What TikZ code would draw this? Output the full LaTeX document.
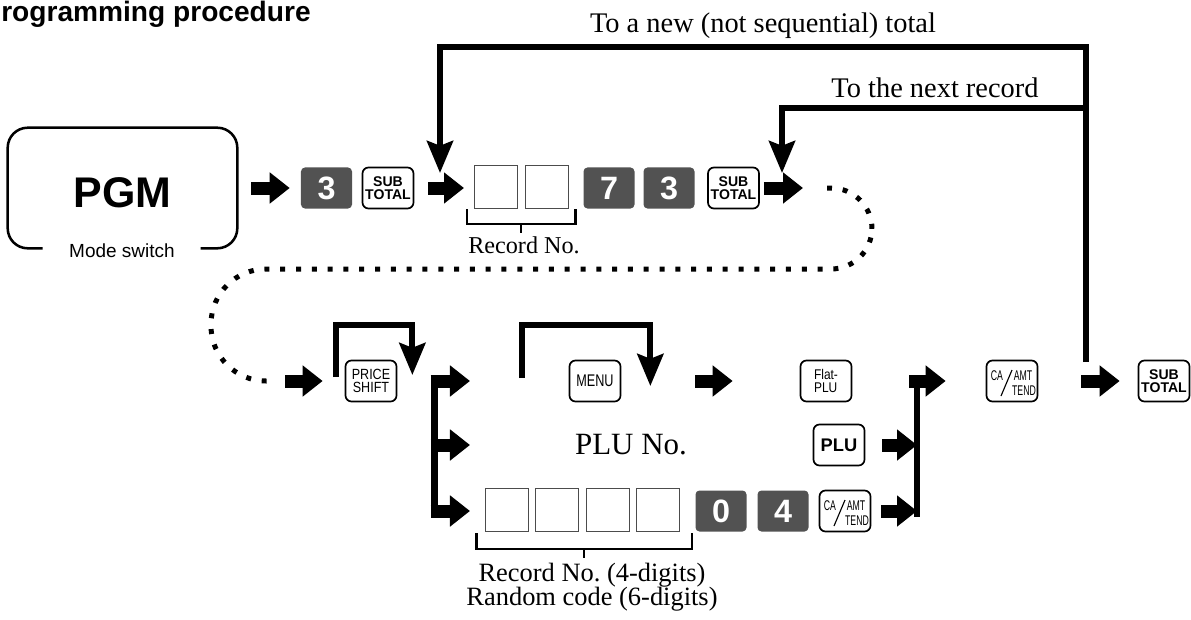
\documentclass[tikz,border=0pt]{standalone}
\usepackage{fontspec}
\setmainfont{Liberation Serif}
\setsansfont{Liberation Sans}
\newfontfamily\pricesf[FakeStretch=0.85]{Liberation Sans}
\newfontfamily\menusf[FakeStretch=0.75]{Liberation Sans}
\newfontfamily\narrowsf[FakeStretch=0.62]{Liberation Sans}
\usetikzlibrary{arrows.meta,calc}
\definecolor{keygray}{RGB}{82,82,82}
\frenchspacing
\tikzset{
    numkey/.style={fill=keygray, rounded corners=.1cm, text=white, inner sep=0pt,
        minimum width=1.275cm, minimum height=1.025cm,
        font=\sffamily\bfseries\fontsize{23}{23}\selectfont},
    fnkey/.style={draw, line width=1.2pt, rounded corners=.15cm, inner sep=0pt, align=center,
        minimum width=1.275cm, minimum height=1.025cm},
    subkey/.style={fnkey, font=\sffamily\bfseries\fontsize{10}{9}\selectfont},
    digbox/.style={draw=black!70, line width=.7pt, minimum width=1.075cm, minimum height=1.075cm, inner sep=0pt},
    blk/.style={line width=.325cm, -{Triangle[length=.5cm,width=.75cm]}},
    flow/.style={line width=.15cm, -{Stealth[length=.8cm,width=.65cm,inset=.12cm]}},
    dots/.style={line width=.125cm, dash pattern=on .125cm off .27cm},
    brace/.style={line width=1.6pt},
    note/.style={anchor=base, inner sep=0pt},
    catxt/.style={note, font=\narrowsf\fontsize{10}{10}\selectfont},
    cakey/.pic={
        \node[fnkey] (-box) {};
        \draw[line width=.8pt] (0,-11) -- (-11,15);
        \node[catxt] (-ca) at (-15,-1) {CA};
        \node[catxt] (-amt) at (11,-1) {AMT};
        \node[catxt] (-tend) at (12,14) {TEND};
    },
}

\begin{document}
\begin{tikzpicture}[x=.025cm, y=-.025cm]
    \useasboundingbox (0,0) rectangle (1191,619);
    \node[note, anchor=base west, font=\sffamily\bfseries\fontsize{20}{20}\selectfont] (title) at (1,21) {rogramming procedure};

    \node[minimum width=5.725cm, minimum height=3cm, inner sep=0pt] (pgm) at (122.5,188) {};
    \draw[line width=1.8pt, rounded corners=.5cm] ($(pgm.south)+(-80,0)$) -| (pgm.north west) -| (pgm.south east) -- ($(pgm.south)+(78,0)$);
    \node[note, font=\sffamily\bfseries\fontsize{30.5}{30}\selectfont] (pgmtxt) at (122.5,207) {PGM};
    \node[note, font=\sffamily\fontsize{13.5}{14}\selectfont] (mode) at (122,257) {Mode switch};

    \node[numkey] (k3a) at (326.5,188) {3};
    \node[subkey] (st1) at (388,188) {SUB\\TOTAL};
    \node[digbox] (rb1) at (496,187) {};
    \node[digbox] (rb2) at (546.5,187) {};
    \node[numkey] (k7) at (609,188) {7};
    \node[numkey] (k3b) at (669,188) {3};
    \node[subkey] (st2) at (733.5,188) {SUB\\TOTAL};
    \coordinate (loopin) at (803,188);

    \draw[brace] ($(rb1.south west)+(-7,0)$) -- ++(0,15) -| ($(rb2.south east)+(7,0)$);
    \draw[brace] ($(rb1.south west)!.5!(rb2.south east)+(0,15)$) -- ++(0,9);
    \node[note, font=\fontsize{17.2}{18}\selectfont] (recno) at (524,253) {Record No.};

    \draw[blk] ($(pgm.east)+(14,0)$) -- ($(k3a.west)+(-11,0)$);
    \draw[blk] ($(st1.east)+(14,0)$) -- ($(rb1.west)+(-10,1)$);
    \draw[blk] ($(st2.east)+(4,0)$) -- (loopin);

    \coordinate (loopout) at (285,381);
    \draw[dots] ($(loopin)+(24,0)$) [rounded corners=1.025cm] -- (872,188) -- (872,269) [rounded corners=1.375cm] -- (211,269) -- (211,381) -- ($(loopout)+(-13,0)$);

    \node[fnkey, font=\pricesf\fontsize{10.5}{9.5}\selectfont] (prc) at (371,381) {PRICE\\SHIFT};
    \draw[blk] (loopout) -- ($(prc.west)+(-22,0)$);
    \draw[flow] ($(prc.west)+(-9,-4)$) |- ($(prc.east)+(15,-56)$) -- ($(prc.east)+(15,-6)$);

    \coordinate (fk1) at (434,381);
    \coordinate (fk2) at (434,445);
    \coordinate (fk3) at (434,511);
    \draw[line width=.175cm] (fk1) -- (fk3);
    \foreach \f in {fk1,fk2,fk3}
        \draw[blk] ($(\f)+(-3.5,0)$) -- ++(39.5,0);

    \node[fnkey, font=\menusf\fontsize{12}{12}\selectfont] (menu) at (595,381) {MENU};
    \draw[flow] ($(menu.west)+(-47,-3)$) |- ($(menu.east)+(29,-56)$) -- ($(menu.east)+(29,5)$);
    \node[fnkey, align=left, font=\pricesf\fontsize{10}{9}\selectfont] (flat) at (826,381) {Flat-\\PLU};
    \draw[blk] ($(menu.east)+(74,0)$) -- ($(flat.west)+(-67,0)$);

    \node[note, font=\fontsize{22}{22}\selectfont] (pluno) at (631,454) {PLU No.};
    \node[fnkey, font=\sffamily\bfseries\fontsize{13}{13}\selectfont] (plu) at (839,445) {PLU};

    \node[digbox] (rb3) at (506.5,510) {};
    \node[digbox] (rb4) at (557,510) {};
    \node[digbox] (rb5) at (607.5,510) {};
    \node[digbox] (rb6) at (658,510) {};
    \node[numkey] (k0) at (721,511) {0};
    \node[numkey] (k4) at (783,511) {4};
    \pic (ca2) at (845,511) {cakey};
    \draw[brace] ($(rb3.south west)+(-8,1)$) -- ++(0,16) -| ($(rb6.south east)+(12,1)$);
    \draw[brace] ($(rb3.south west)!.5!(rb6.south east)+(2,17)$) -- ++(0,9);
    \node[note, font=\fontsize{18.8}{20}\selectfont] (rec4) at (592,581) {Record No. (4-digits)};
    \node[note, font=\fontsize{18.8}{20}\selectfont] (rnd6) at (592,605) {Random code (6-digits)};

    \coordinate (fr1) at (917,381);
    \coordinate (fr2) at (917,445);
    \coordinate (fr3) at (917,511);
    \draw[line width=.14cm] (fr1) -- ($(fr3)+(0,6)$);
    \draw[blk] ($(plu.east)+(17,0)$) -- (fr2);
    \draw[blk] ($(ca2-box.east)+(10,0)$) -- (fr3);

    \pic (ca1) at (1012,381) {cakey};
    \node[subkey] (st3) at (1164,381) {SUB\\TOTAL};
    \draw[blk] ($(fr1)+(-8,0)$) -- ($(ca1-box.west)+(-40,0)$);
    \draw[blk] ($(ca1-box.east)+(43,0)$) -- ($(st3.west)+(-18,0)$);

    \coordinate (jn) at (1086,362);
    \coordinate (newin) at (440,173);
    \coordinate (nextin) at (782,173);
    \draw[flow] (jn) -- ++(0,-315) -| (newin);
    \draw[flow] ($(jn)+(0,-254)$) -| (nextin);
    \node[note, font=\fontsize{20.2}{22}\selectfont] (newlbl) at (763,32) {To a new (not sequential) total};
    \node[note, font=\fontsize{20.2}{22}\selectfont] (nextlbl) at (935,97) {To the next record};
\end{tikzpicture}
\end{document}
